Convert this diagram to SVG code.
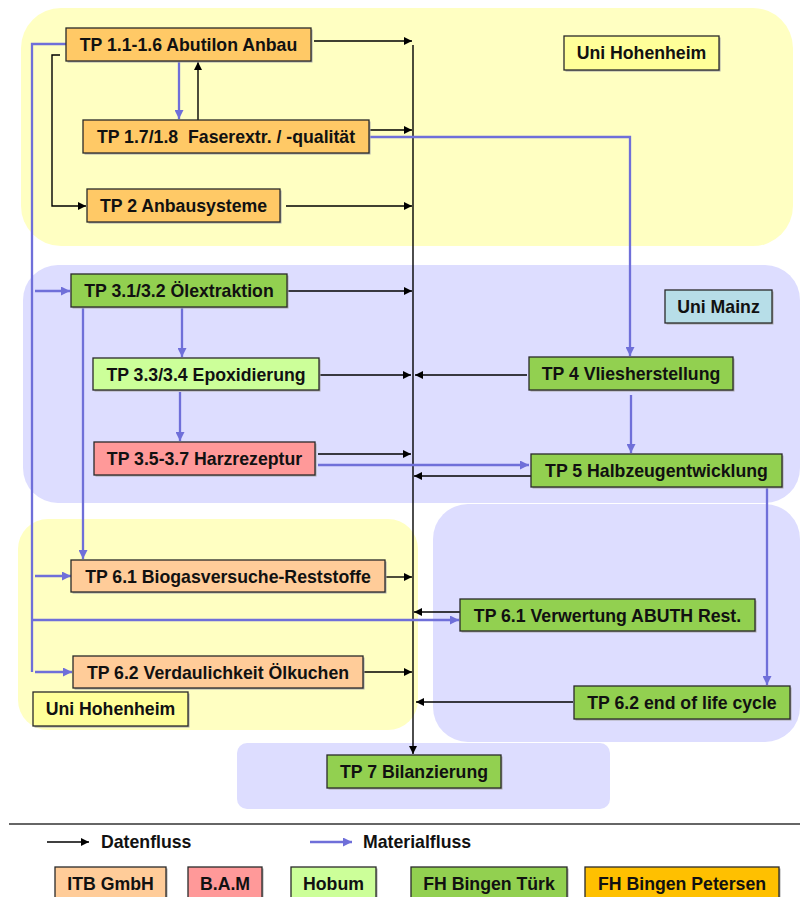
<svg xmlns="http://www.w3.org/2000/svg" width="800" height="897" viewBox="0 0 800 897">
<defs>
<marker id="ab" viewBox="0 0 10 10" refX="10" refY="5" markerWidth="9" markerHeight="8" orient="auto" markerUnits="userSpaceOnUse"><path d="M0,0L10,5L0,10z" fill="#000"/></marker>
<marker id="am" viewBox="0 0 10 10" refX="10" refY="5" markerWidth="10" markerHeight="9" orient="auto" markerUnits="userSpaceOnUse"><path d="M0,0L10,5L0,10z" fill="#6F6FD9"/></marker>
</defs>
<style>
text{font-family:"Liberation Sans",Arial,sans-serif;font-weight:bold;font-size:17.7px;fill:#111;text-anchor:middle;white-space:pre}
.box{stroke:#2a2a2a;stroke-width:1.3}
.sh{fill:#aaaaaa}
.d{stroke:#000;stroke-width:1.4;fill:none;marker-end:url(#ab)}
.m{stroke:#6F6FD9;stroke-width:2.3;fill:none;marker-end:url(#am)}
.ml{stroke:#6F6FD9;stroke-width:2.3;fill:none}
.or{fill:#FFC966}.gr{fill:#92D050}.lg{fill:#CCFF99}.pk{fill:#FF9999}.pe{fill:#FFCC99}.go{fill:#FFC000}
.yr{fill:#FFFFC2}.br{fill:#DDDDFF}
</style>
<g id="regions">
<rect class="yr" x="21" y="8" width="772" height="238" rx="40"/>
<rect class="br" x="23" y="265" width="777" height="238" rx="35"/>
<rect class="yr" x="18" y="519" width="400" height="211" rx="30"/>
<rect class="br" x="433" y="504" width="367" height="238" rx="35"/>
<rect class="br" x="237" y="743" width="373" height="66" rx="10"/>
</g>
<g id="labels">
<g id="lbl-hohenheim-top"><rect class="sh" x="565.5" y="37.5" width="155" height="34"/><rect class="box" fill="#FFFF99" x="564" y="36" width="155" height="34"/><text x="641.5" y="59">Uni Hohenheim</text></g>
<g id="lbl-mainz"><rect class="sh" x="666.5" y="291.5" width="107" height="33"/><rect class="box" fill="#B7DEE8" x="665" y="290" width="107" height="33"/><text x="718.5" y="313">Uni Mainz</text></g>
<g id="lbl-hohenheim-bottom"><rect class="sh" x="34.5" y="693.5" width="155" height="34"/><rect class="box" fill="#FFFF99" x="33" y="692" width="155" height="34"/><text x="110.5" y="715">Uni Hohenheim</text></g>
</g>
<g id="connectors">
<path class="d" d="M314,41H412"/>
<path class="d" d="M198,120V62"/>
<path class="d" d="M60,55H52V206H86"/>
<path class="d" d="M370,130H412"/>
<path class="d" d="M286,206H412"/>
<path class="d" d="M413,45V754"/>
<path class="d" d="M288,291H412"/>
<path class="d" d="M319,375H411"/>
<path class="d" d="M527,375H415"/>
<path class="d" d="M318,454H411"/>
<path class="d" d="M531,476H414"/>
<path class="d" d="M386,577H412"/>
<path class="d" d="M460,612H414"/>
<path class="d" d="M364,672H412"/>
<path class="d" d="M573,702H416"/>
<path class="m" d="M179,62V119"/>
<path class="ml" d="M66,44H32V672"/>
<path class="m" d="M35,291H70"/>
<path class="m" d="M35,576H71"/>
<path class="m" d="M32,620H459"/>
<path class="m" d="M35,672H72"/>
<path class="m" d="M83,307V559"/>
<path class="m" d="M182,307V357"/>
<path class="m" d="M180,392V441"/>
<path class="m" d="M370,137H630V356"/>
<path class="m" d="M631,395V453"/>
<path class="m" d="M318,465H529"/>
<path class="m" d="M767,487V685"/>
</g>
<g id="n1"><rect class="sh" x="67.5" y="29.5" width="245" height="33"/><rect class="box or" x="66" y="28" width="245" height="33"/><text x="188.5" y="51">TP 1.1-1.6 Abutilon Anbau</text></g>
<g id="n2"><rect class="sh" x="84.5" y="121.5" width="286" height="33"/><rect class="box or" x="83" y="120" width="286" height="33"/><text x="226" y="143">TP 1.7/1.8  Faserextr. / -qualität</text></g>
<g id="n3"><rect class="sh" x="88.5" y="190.5" width="193" height="33"/><rect class="box or" x="87" y="189" width="193" height="33"/><text x="183.5" y="212">TP 2 Anbausysteme</text></g>
<g id="n4"><rect class="sh" x="72.5" y="275.5" width="216" height="33"/><rect class="box gr" x="71" y="274" width="216" height="33"/><text x="179" y="297">TP 3.1/3.2 Ölextraktion</text></g>
<g id="n5"><rect class="sh" x="94.5" y="359.5" width="226" height="32"/><rect class="box lg" x="93" y="358" width="226" height="32"/><text x="206" y="380.5">TP 3.3/3.4 Epoxidierung</text></g>
<g id="n6"><rect class="sh" x="95.5" y="443.5" width="221" height="33"/><rect class="box pk" x="94" y="442" width="221" height="33"/><text x="204.5" y="465">TP 3.5-3.7 Harzrezeptur</text></g>
<g id="n7"><rect class="sh" x="530.5" y="358.5" width="204" height="33"/><rect class="box gr" x="529" y="357" width="204" height="33"/><text x="631" y="380">TP 4 Vliesherstellung</text></g>
<g id="n8"><rect class="sh" x="532.5" y="455.5" width="251" height="33"/><rect class="box gr" x="531" y="454" width="251" height="33"/><text x="656.5" y="477">TP 5 Halbzeugentwicklung</text></g>
<g id="n9"><rect class="sh" x="72.5" y="561.5" width="314" height="32"/><rect class="box pe" x="71" y="560" width="314" height="32"/><text x="228" y="582.5">TP 6.1 Biogasversuche-Reststoffe</text></g>
<g id="n10"><rect class="sh" x="461.5" y="600.5" width="295" height="32"/><rect class="box gr" x="460" y="599" width="295" height="32"/><text x="607.5" y="621.5">TP 6.1 Verwertung ABUTH Rest.</text></g>
<g id="n11"><rect class="sh" x="74.5" y="657.5" width="290" height="32"/><rect class="box pe" x="73" y="656" width="290" height="32"/><text x="218" y="678.5">TP 6.2 Verdaulichkeit Ölkuchen</text></g>
<g id="n12"><rect class="sh" x="575.5" y="687.5" width="216" height="33"/><rect class="box gr" x="574" y="686" width="216" height="33"/><text x="682" y="709">TP 6.2 end of life cycle</text></g>
<g id="n13"><rect class="sh" x="328.5" y="756.5" width="174" height="33"/><rect class="box gr" x="327" y="755" width="174" height="33"/><text x="414" y="778">TP 7 Bilanzierung</text></g>
<g id="legend">
<path d="M9,824H800" stroke="#333" stroke-width="1.5"/>
<path class="d" d="M47,842H89"/>
<text x="101" y="848" style="text-anchor:start">Datenfluss</text>
<path class="m" d="M310,842H352"/>
<text x="363" y="848" style="text-anchor:start">Materialfluss</text>
<g id="leg-itb"><rect class="sh" x="56.5" y="868.5" width="111" height="40"/><rect class="box pe" x="55" y="867" width="111" height="40"/><text x="110.5" y="890">ITB GmbH</text></g>
<g id="leg-bam"><rect class="sh" x="189.5" y="868.5" width="74" height="40"/><rect class="box pk" x="188" y="867" width="74" height="40"/><text x="225" y="890">B.A.M</text></g>
<g id="leg-hobum"><rect class="sh" x="292.5" y="868.5" width="85" height="40"/><rect class="box lg" x="291" y="867" width="85" height="40"/><text x="333.5" y="890">Hobum</text></g>
<g id="leg-tuerk"><rect class="sh" x="412.5" y="868.5" width="156" height="40"/><rect class="box gr" x="411" y="867" width="156" height="40"/><text x="489" y="890">FH Bingen Türk</text></g>
<g id="leg-petersen"><rect class="sh" x="586.5" y="868.5" width="194" height="40"/><rect class="box go" x="585" y="867" width="194" height="40"/><text x="682" y="890">FH Bingen Petersen</text></g>
</g>
</svg>
